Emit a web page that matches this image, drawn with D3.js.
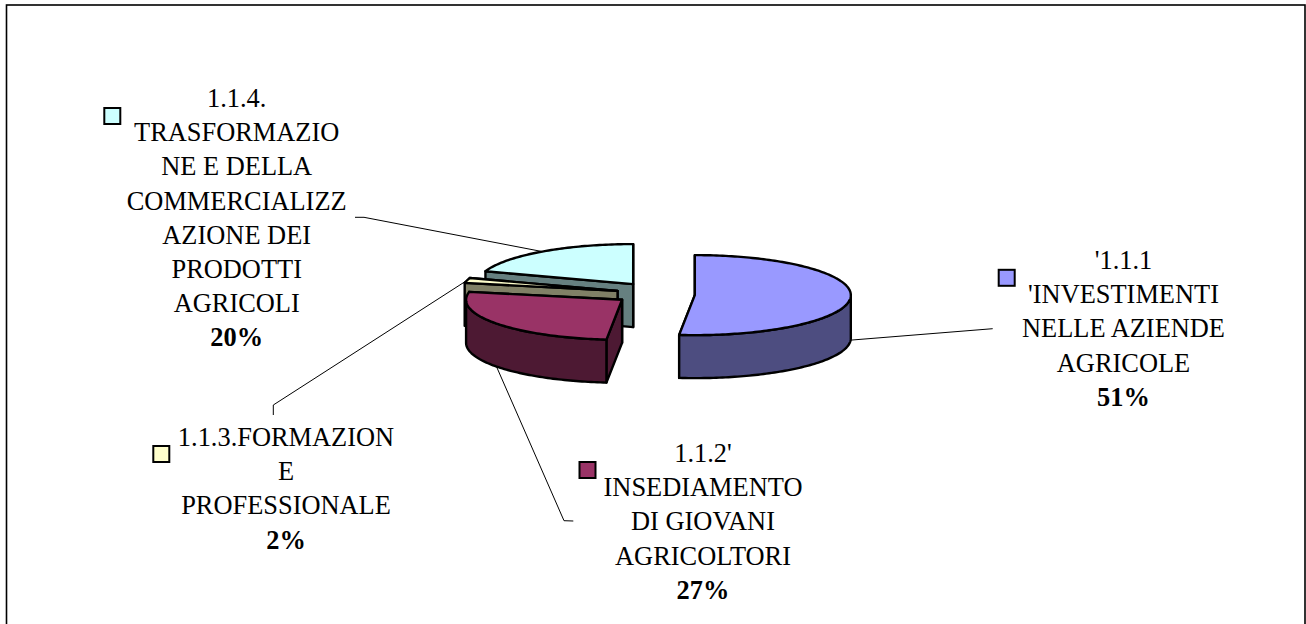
<!DOCTYPE html>
<html>
<head>
<meta charset="utf-8">
<title></title>
<style>
  html, body { margin: 0; background: #fff; overflow: hidden; }
  svg { display: block; }
  text { font-family: "Liberation Serif", serif; fill: #000; }
</style>
<script src="https://d3js.org/d3.v7.min.js"></script>
</head>
<body>
<script>
// data
var categories = ["1.1.1 INVESTIMENTI", "1.1.2 INSEDIAMENTO", "1.1.3 FORMAZIONE", "1.1.4 TRASFORMAZIONE"]
var values = [51.6, 26.6, 2.0, 19.8]
var percents = ["51%", "27%", "2%", "20%"]
var labelLines = [
  ["'1.1.1", "'INVESTIMENTI", "NELLE AZIENDE", "AGRICOLE"],
  ["1.1.2'", "INSEDIAMENTO", "DI GIOVANI", "AGRICOLTORI"],
  ["1.1.3.FORMAZION", "E", "PROFESSIONALE"],
  ["1.1.4.", "TRASFORMAZIO", "NE E DELLA", "COMMERCIALIZZ", "AZIONE DEI", "PRODOTTI", "AGRICOLI"]
]
var topColors = ["#9999ff", "#993366", "#ffffcc", "#ccffff"]
var sideColors = ["#4d4d80", "#4d1933", "#808066", "#668080"]

// layout
var width = 1306, height = 624
var cx = 654, cy = 294.6, rx = 156, ry = 40, depth = 43, explode = 0.262
var nudgeX = [0, 1, 3, 3], nudgeY = [0, -1, -1, -2]
var fontSize = 26.4, lineHeight = 34.2
var labelX = [1123.5, 703, 286, 236.7]
var labelY = [269, 462, 446, 107]
var keyX = [1006.7, 587.5, 161.3, 112.3]
var keyY = [277.8, 470, 454, 116]
var leaderEnds = [
  [[992.7, 328.7]],
  [[564, 520.7], [573.3, 521]],
  [[273.3, 405], [273.3, 415]],
  [[364, 217.3], [355, 217.3]]
]
var drawOrder = [3, 2, 1, 0]

var svg = d3.select("body").append("svg")
  .attr("width", width)
  .attr("height", height)

// frame runs off the bottom of the page
svg.append("rect")
  .attr("x", 6.5).attr("y", 5)
  .attr("width", 1298.5).attr("height", 640)
  .attr("fill", "#fff").attr("stroke", "#000").attr("stroke-width", 1.6)

var arcs = d3.pie().sort(null).value(function(d){ return d })(values)
  .map(function(d){ d.mid = (d.startAngle + d.endAngle) / 2; return d })

var line = d3.line()

function centerOf(d, i){
  return [cx + nudgeX[i] + explode * rx * Math.sin(d.mid), cy + nudgeY[i] - explode * ry * Math.cos(d.mid)]
}
function rim(c, a, dy){
  return [c[0] + rx * Math.sin(a), c[1] - ry * Math.cos(a) + (dy || 0)]
}
function rimPoints(c, a0, a1, dy){
  var n = Math.max(2, Math.ceil((a1 - a0) / 0.02))
  return d3.range(n + 1).map(function(i){ return rim(c, a0 + (a1 - a0) * i / n, dy) })
}

var pieG = svg.append("g")
  .attr("stroke", "#000")
  .attr("stroke-width", 2.4)
  .attr("stroke-linejoin", "round")

function radialFace(c, a){
  var p = rim(c, a)
  return line([c, p, [p[0], p[1] + depth], [c[0], c[1] + depth]]) + "Z"
}

drawOrder.forEach(function(i){
  var d = arcs[i], c = centerOf(d, i)
  var g = pieG.append("g")
  g.append("path").attr("d", radialFace(c, d.endAngle)).attr("fill", sideColors[i])
  g.append("path").attr("d", radialFace(c, d.startAngle)).attr("fill", sideColors[i])

  // outer wall only shows on the front half
  var a0 = Math.max(d.startAngle, Math.PI / 2), a1 = Math.min(d.endAngle, Math.PI * 1.5)
  if (a1 > a0) {
    var wall = rimPoints(c, a0, a1).concat(rimPoints(c, a0, a1, depth).reverse())
    g.append("path").attr("d", line(wall) + "Z").attr("fill", sideColors[i])
  }

  var top = [c].concat(rimPoints(c, d.startAngle, d.endAngle))
  g.append("path").attr("d", line(top) + "Z").attr("fill", topColors[i])
})

// leader lines start on the slice at its middle angle
arcs.forEach(function(d, i){
  var c = centerOf(d, i)
  var start = rim(c, d.mid, Math.cos(d.mid) < 0 ? depth : 0)
  svg.append("path")
    .attr("d", line([start].concat(leaderEnds[i])))
    .attr("fill", "none")
    .attr("stroke", "#000")
    .attr("stroke-width", 1)
})

categories.forEach(function(name, i){
  var g = svg.append("g").attr("class", "label").attr("text-anchor", "middle")
  var lines = labelLines[i]
  lines.forEach(function(t, j){
    g.append("text")
      .attr("x", labelX[i])
      .attr("y", labelY[i] + j * lineHeight)
      .attr("font-size", fontSize)
      .text(t)
  })
  g.append("text")
    .attr("x", labelX[i])
    .attr("y", labelY[i] + lines.length * lineHeight)
    .attr("font-size", fontSize)
    .attr("font-weight", "bold")
    .text(percents[i])

  svg.append("rect")
    .attr("x", keyX[i] - 8).attr("y", keyY[i] - 8)
    .attr("width", 16).attr("height", 16)
    .attr("fill", topColors[i])
    .attr("stroke", "#000").attr("stroke-width", 2)
})
</script>
</body>
</html>
